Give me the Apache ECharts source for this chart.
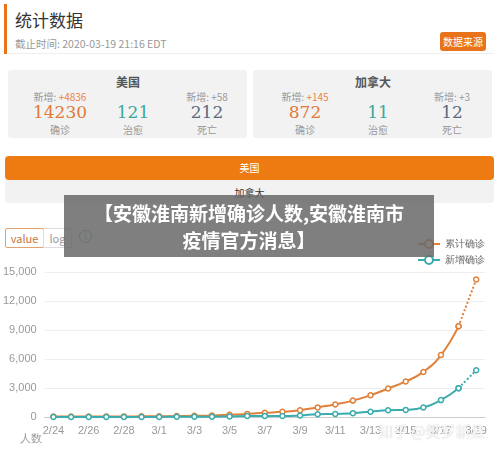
<!DOCTYPE html>
<html><head><meta charset="utf-8">
<script src="https://cdn.jsdelivr.net/npm/echarts@6/dist/echarts.min.js"></script>
<style>
body{margin:0;width:500px;height:454px;overflow:hidden;background:#fff;font-family:"Noto Sans CJK SC","Noto Sans",sans-serif;position:relative}
.a{position:absolute}
.card{background:#f2f2f2;border-radius:3px;top:70px;height:68px;width:239px}
.c{position:absolute;text-align:center;width:70px}
.num{font-family:"DejaVu Serif",serif;font-size:17px}
.sm{font-size:10px;color:#999}
</style></head><body>
<div class="a" style="left:4px;top:4px;width:3px;height:50px;background:#e8731a"></div>
<div class="a" style="left:15px;top:7px;font-size:17px;color:#333">统计数据</div>
<div class="a" style="left:15px;top:36px;font-size:10.5px;color:#999">截止时间: 2020-03-19 21:16 EDT</div>
<div class="a" style="left:440px;top:32px;width:46px;height:19px;background:#e8731a;border-radius:3px;color:#fff;font-size:10px;line-height:19px;text-align:center">数据来源</div>
<div class="a" style="left:8px;top:53px;width:486px;height:1px;background:#eee"></div>
<div id="cards"></div>
<div class="a" style="left:5px;top:156px;width:489px;height:24px;background:#ee7a12;border-radius:4px;color:#fff;font-size:10px;line-height:24px;text-align:center">美国</div>
<div class="a" style="left:5px;top:180px;width:489px;height:23px;background:#f2f2f2;border-radius:0 0 4px 4px;color:#333;font-size:10px;line-height:26px;text-align:center">加拿大</div>
<div class="a" style="left:5px;top:228px;width:37px;height:18px;border:1px solid #e0a070;border-radius:2px;color:#c8743a;font-size:11px;line-height:18px;text-align:center">value</div>
<div class="a" style="left:43px;top:228px;width:27px;height:18px;border:1px solid #ddd;color:#999;font-size:11px;line-height:18px;text-align:center">log</div>
<div class="a" style="left:79px;top:230px;width:11px;height:11px;border:1px solid #6a9ac8;border-radius:50%;color:#6a9ac8;font-size:8px;line-height:11px;text-align:center">i</div>
<div id="chart" class="a" style="left:0;top:0;width:500px;height:454px"></div>
<div class="a" style="left:64px;top:195px;width:370px;height:62px;background:rgba(105,105,105,0.85);color:#fff;font-weight:bold;font-size:19px;line-height:27px;text-align:center;padding-top:4px;box-sizing:border-box;z-index:5">【安徽淮南新增确诊人数,安徽淮南市<br>疫情官方消息】</div>
<div class="a" style="left:378px;top:420px;color:rgba(255,255,255,0.85);font-size:15px;z-index:5;text-shadow:0 0 1px #bbb">知乎 @樊罗新星</div>
<script>
const dates=['2/24','2/25','2/26','2/27','2/28','2/29','3/1','3/2','3/3','3/4','3/5','3/6','3/7','3/8','3/9','3/10','3/11','3/12','3/13','3/14','3/15','3/16','3/17','3/18','3/19'];
const total=[51,53,57,60,62,68,75,100,124,158,221,319,435,541,704,994,1301,1697,2247,2943,3680,4663,6411,9394,14230];
const added=[0,2,4,3,2,6,7,25,24,34,63,98,116,106,163,290,307,396,550,696,737,983,1748,2983,4836];
const cards=[{n:'美国',addC:'+4836',c:'14230',r:'121',d:'212',addD:'+58',x:8},{n:'加拿大',addC:'+145',c:'872',r:'11',d:'12',addD:'+3',x:253}];
let h='';
cards.forEach(k=>{h+=`<div class="a card" style="left:${k.x}px">
<div class="c" style="left:85px;top:3px;font-size:12px;font-weight:bold;color:#555">${k.n}</div>
<div class="c sm" style="left:17px;top:19px">新增: <span style="color:#e8834a">${k.addC}</span></div>
<div class="c sm" style="left:164px;top:19px">新增: ${k.addD}</div>
<div class="c num" style="left:17px;top:32px;color:#e07a3a">${k.c}</div>
<div class="c num" style="left:90px;top:32px;color:#3aa89a">${k.r}</div>
<div class="c num" style="left:164px;top:32px;color:#5a6a80">${k.d}</div>
<div class="c sm" style="left:17px;top:52px">确诊</div>
<div class="c sm" style="left:90px;top:52px">治愈</div>
<div class="c sm" style="left:164px;top:52px">死亡</div></div>`});
document.getElementById('cards').innerHTML=h;
const O='#e0803a',T='#3aabae';
const n=dates.length;
const solid=a=>a.map((v,i)=>i<n-1?v:null), dot=a=>a.map((v,i)=>i>=n-2?v:null);
const mk=(name,data,c,type)=>({name,type:'line',data,smooth:true,symbol:'circle',symbolSize:5,
 itemStyle:{color:'#fff',borderColor:c,borderWidth:1.5},lineStyle:{color:c,width:2,type},connectNulls:false});
const ch=echarts.init(document.getElementById('chart'));
ch.setOption({animation:false,
legend:{right:10,top:234,orient:'vertical',itemGap:6,itemWidth:22,itemHeight:10,textStyle:{fontSize:10,color:'#666'},data:['累计确诊','新增确诊']},
grid:{left:40,right:15,top:272,bottom:37},
xAxis:{type:'category',data:dates,boundaryGap:true,axisLine:{lineStyle:{color:'#ccc'}},axisTick:{interval:1,alignWithLabel:true,lineStyle:{color:'#ccc'}},axisLabel:{interval:1,color:'#999',fontSize:11}},
yAxis:{type:'value',min:0,max:15000,interval:3000,axisLabel:{color:'#999',fontSize:11,formatter:v=>v.toLocaleString('en-US')},splitLine:{lineStyle:{color:'#eee'}}},
graphic:[{type:'text',left:20,top:433,style:{text:'人数',fill:'#999',fontSize:11}}],
series:[mk('累计确诊',solid(total),O,'solid'),mk('累计确诊',dot(total),O,'dotted'),mk('新增确诊',solid(added),T,'solid'),mk('新增确诊',dot(added),T,'dotted')]
});
</script></body></html>
